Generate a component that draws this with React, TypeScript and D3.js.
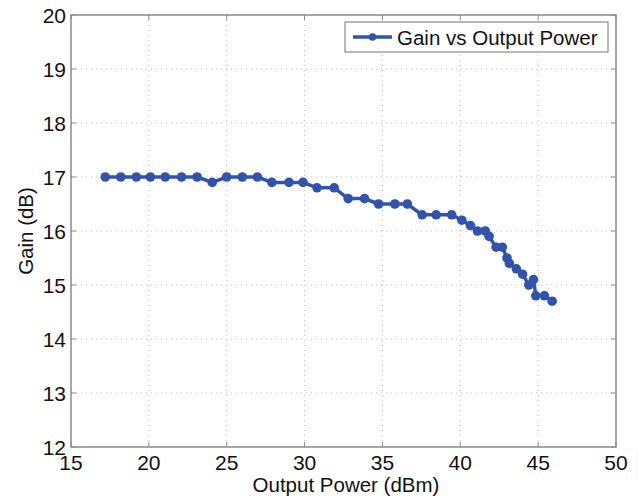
import React from "react";
import * as d3 from "d3";

const xTicks = [15, 20, 25, 30, 35, 40, 45, 50];
const yTicks = [12, 13, 14, 15, 16, 17, 18, 19, 20];
const outputPower = [
  17.2, 18.2, 19.2, 20.1, 21.05, 22.1, 23.1, 24.07, 25.0, 26.0, 26.97, 27.9, 29.0, 29.9,
  30.8, 31.9, 32.8, 33.85, 34.75, 35.8, 36.6, 37.55, 38.45, 39.45, 40.1, 40.65, 41.1,
  41.6, 41.85, 42.3, 42.7, 43.0, 43.15, 43.6, 44.0, 44.4, 44.7, 44.85, 45.4, 45.9,
];
const gain = [
  17.0, 17.0, 17.0, 17.0, 17.0, 17.0, 17.0, 16.9, 17.0, 17.0, 17.0, 16.9, 16.9, 16.9,
  16.8, 16.8, 16.6, 16.6, 16.5, 16.5, 16.5, 16.3, 16.3, 16.3, 16.2, 16.1, 16.0,
  16.0, 15.9, 15.7, 15.7, 15.5, 15.4, 15.3, 15.2, 15.0, 15.1, 14.8, 14.8, 14.7,
];
const legendLabel = "Gain vs Output Power";

export default function App() {
  const W = 638, H = 501;
  const L = 71, R = 616, T = 15, B = 447;
  const x = d3.scaleLinear().domain([15, 50]).range([L, R]);
  const y = d3.scaleLinear().domain([12, 20]).range([B, T]);
  const pts = outputPower.map((v, i) => [x(v), y(gain[i])] as [number, number]);
  const line = d3.line()(pts) || "";
  const blue = "#3253ad";
  const axisColor = "#8a8a8a";
  const font = "'Liberation Sans', Arial, Helvetica, sans-serif";
  const tickLen = 5;
  return (
    <svg width={W} height={H} style={{ position: "absolute", left: 0, top: 0, background: "#fff" }}
      fontFamily={font}>
      <rect x={0} y={0} width={W} height={H} fill="#fff" />
      {xTicks.slice(1, -1).map((t) => (
        <line key={"gx" + t} x1={x(t)} x2={x(t)} y1={T} y2={B} stroke="#bdbdbd" strokeWidth={1} strokeDasharray="1,4" />
      ))}
      {yTicks.slice(1, -1).map((t) => (
        <line key={"gy" + t} x1={L} x2={R} y1={y(t)} y2={y(t)} stroke="#bdbdbd" strokeWidth={1} strokeDasharray="1,4" />
      ))}
      <rect x={L} y={T} width={R - L} height={B - T} fill="none" stroke={axisColor} strokeWidth={1.5} />
      {xTicks.map((t) => (
        <g key={"tx" + t}>
          <line x1={x(t)} x2={x(t)} y1={B} y2={B - tickLen} stroke={axisColor} />
          <line x1={x(t)} x2={x(t)} y1={T} y2={T + tickLen} stroke={axisColor} />
          <text x={x(t)} y={470} textAnchor="middle" fontSize={21} fill="#111">{t}</text>
        </g>
      ))}
      {yTicks.map((t) => (
        <g key={"ty" + t}>
          <line x1={L} x2={L + tickLen} y1={y(t)} y2={y(t)} stroke={axisColor} />
          <line x1={R} x2={R - tickLen} y1={y(t)} y2={y(t)} stroke={axisColor} />
          <text x={66} y={y(t) + 7.5} textAnchor="end" fontSize={21} fill="#111">{t}</text>
        </g>
      ))}
      <text x={346} y={492} textAnchor="middle" fontSize={20.5} fill="#111">Output Power (dBm)</text>
      <text transform={`translate(33, ${(T + B) / 2}) rotate(-90)`} textAnchor="middle" fontSize={20.5} fill="#111">Gain (dB)</text>
      <path d={line} fill="none" stroke={blue} strokeWidth={3.5} strokeLinejoin="round" />
      {pts.map((p, i) => (
        <circle key={i} cx={p[0]} cy={p[1]} r={4.8} fill={blue} />
      ))}
      <g>
        <rect x={345} y={22} width={263} height={30} fill="#fff" stroke={axisColor} strokeWidth={1.2} />
        <line x1={353} x2={392} y1={37} y2={37} stroke={blue} strokeWidth={3.5} />
        <circle cx={372.5} cy={37} r={3.8} fill={blue} />
        <text x={397} y={44.5} fontSize={20.5} fill="#111">{legendLabel}</text>
      </g>
    </svg>
  );
}
